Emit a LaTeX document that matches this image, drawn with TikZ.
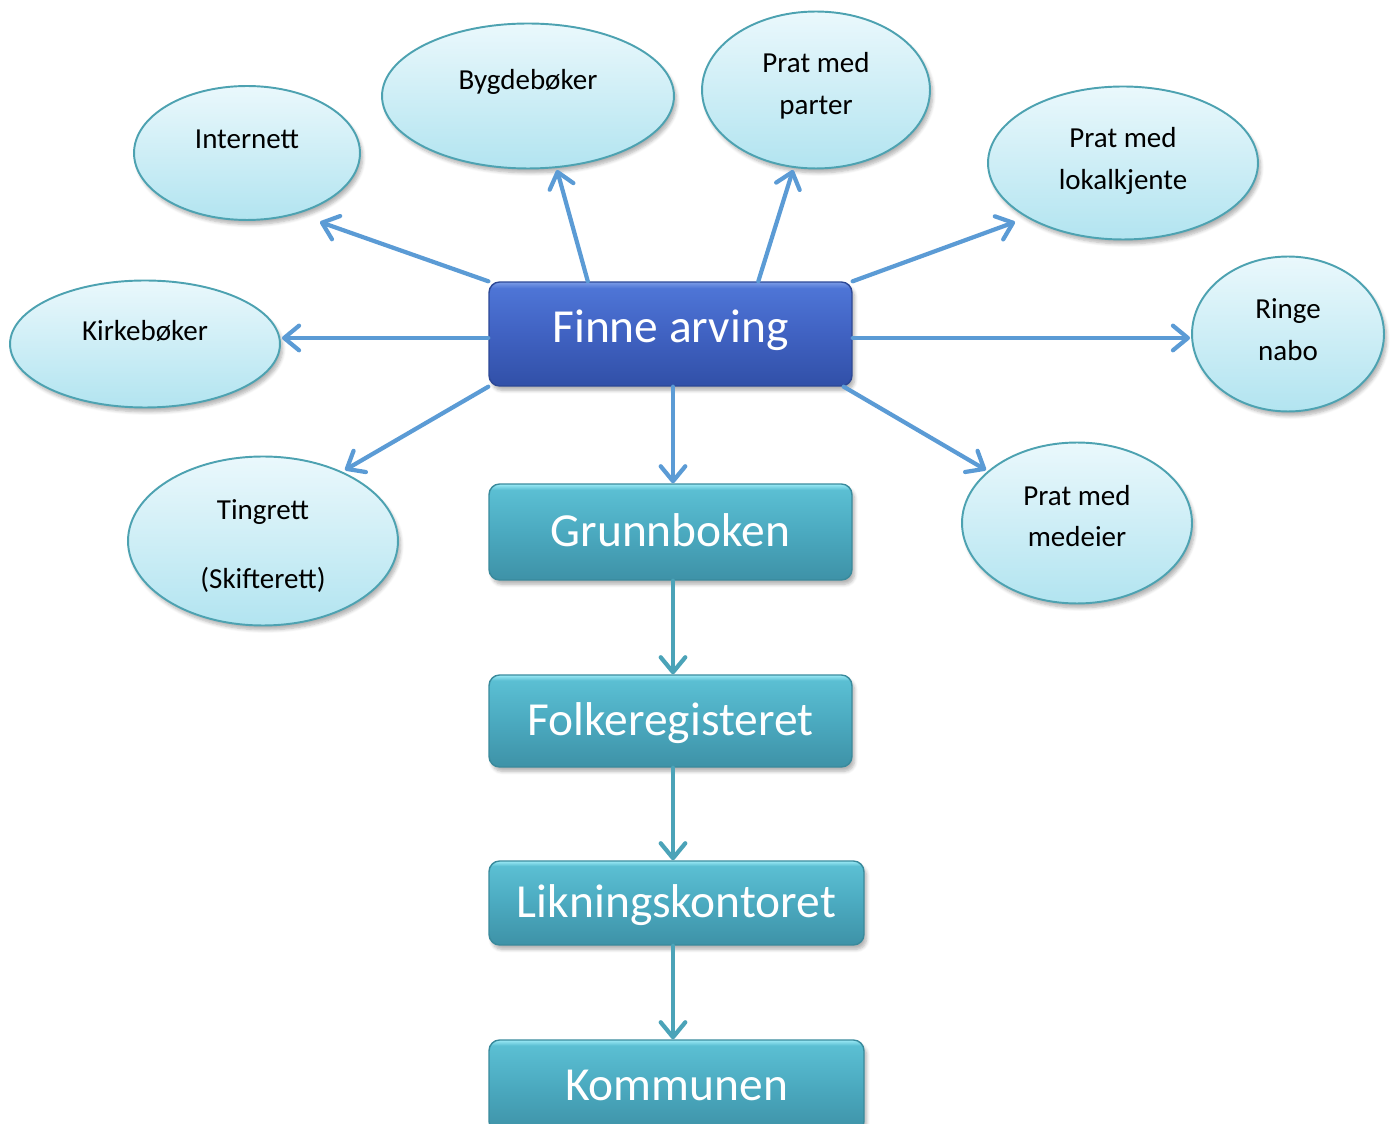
\documentclass[tikz,border=0pt]{standalone}
\usepackage{fontspec}
\setmainfont{Carlito}
\usetikzlibrary{arrows.meta,calc,shapes.geometric,shadows,shadows.blur}

\definecolor{bubtop}{HTML}{EAF8FC}
\definecolor{bubbot}{HTML}{B2E4F0}
\definecolor{bubedge}{HTML}{4DA2B1}
\definecolor{arrblue}{HTML}{5B9BD5}
\definecolor{arrteal}{HTML}{4BA3B8}
\definecolor{bluehi}{HTML}{7B9BE6}
\definecolor{bluetop}{HTML}{4E75D6}
\definecolor{bluemid}{HTML}{4062C2}
\definecolor{bluebot}{HTML}{3150A8}
\definecolor{blueedge}{HTML}{2C4896}
\definecolor{tealhi}{HTML}{9CEAF6}
\definecolor{tealtop}{HTML}{5BBFD3}
\definecolor{tealmid}{HTML}{4BAAC0}
\definecolor{tealbot}{HTML}{3E92A7}
\definecolor{tealedge}{HTML}{398A9C}

% glossy vertical fills for the boxes (25bp = bottom edge, 75bp = top edge)
\pgfdeclareverticalshading{bluegloss}{100bp}{color(0bp)=(bluebot); color(25bp)=(bluebot); color(50bp)=(bluemid); color(72bp)=(bluetop); color(75bp)=(bluehi); color(100bp)=(bluehi)}
\pgfdeclareverticalshading{tealgloss}{100bp}{color(0bp)=(tealbot); color(25bp)=(tealbot); color(50bp)=(tealmid); color(72bp)=(tealtop); color(75bp)=(tealhi); color(100bp)=(tealhi)}

\begin{document}
\begin{tikzpicture}[x=0.02cm, y=-0.02cm,
  softshadow/.style={blur shadow={shadow xshift=1.5pt, shadow yshift=-2.5pt, shadow blur steps=6, shadow opacity=30}},
  bubble/.style={ellipse, draw=bubedge, line width=1.1pt, top color=bubtop, bottom color=bubbot, inner sep=0pt, softshadow},
  btext/.style={font=\fontsize{16.5}{23.8}\selectfont, align=center, text=black, inner sep=0pt},
  box/.style={rounded corners=6pt, line width=0.8pt, text=white, inner sep=0pt,
    font=\fontsize{27}{30}\selectfont, text height=21pt, text depth=4.4pt, softshadow},
  bluebox/.style={box, draw=blueedge, shading=bluegloss, text height=16pt, text depth=6pt},
  tealbox/.style={box, draw=tealedge, shading=tealgloss},
  arr/.style={line width=2.4pt, draw=arrblue, line cap=round,
    -{Straight Barb[length=8.5pt, width=14pt, round]}},
  chain/.style={arr, draw=arrteal}]
\useasboundingbox (0,0) rectangle (1390,1124);

% ellipses around the central task
\node[bubble, minimum width=4.52cm, minimum height=2.68cm] (inet)   at (247,153) {};
\node[bubble, minimum width=5.84cm, minimum height=2.90cm] (bygd)   at (528,96)  {};
\node[bubble, minimum width=4.56cm, minimum height=3.14cm] (parter) at (816,90)  {};
\node[bubble, minimum width=5.40cm, minimum height=3.06cm] (lokal)  at (1123,163) {};
\node[bubble, minimum width=3.84cm, minimum height=3.10cm] (ringe)  at (1288,334) {};
\node[bubble, minimum width=4.60cm, minimum height=3.22cm] (medeier) at (1077,523) {};
\node[bubble, minimum width=5.40cm, minimum height=3.38cm] (ting)   at (263,541) {};
\node[bubble, minimum width=5.40cm, minimum height=2.54cm] (kirke)  at (145,344) {};

\node[btext] (inet-t)    at (247,139)   {Internett};
\node[btext] (bygd-t)    at (528,82)    {Bygdebøker};
\node[btext] (parter-t)  at (816,86)    {Prat med\\parter};
\node[btext] (lokal-t)   at (1123,161)  {Prat med\\lokalkjente};
\node[btext] (ringe-t)   at (1288,330)  {Ringe\\nabo};
\node[btext] (medeier-t) at (1077,516)  {Prat med\\medeier};
\node[btext] (ting-t)    at (263,546)   {Tingrett\\[0.55cm](Skifterett)};
\node[btext] (kirke-t)   at (145,331)   {Kirkebøker};

% main boxes
\node[bluebox, minimum width=7.26cm, minimum height=2.08cm] (fa)    at (670.5,334) {Finne arving};
\node[tealbox, minimum width=7.26cm, minimum height=1.92cm] (grunn) at (670.5,532) {Grunnboken};
\node[tealbox, minimum width=7.26cm, minimum height=1.84cm] (folke) at (670.5,721) {Folkeregisteret};
\node[tealbox, minimum width=7.50cm, minimum height=1.68cm] (likn)  at (676.5,903) {Likningskontoret};
\node[tealbox, minimum width=7.50cm, minimum height=1.84cm] (komm)  at (676.5,1086) {Kommunen};

% arrow tips near the ellipses
\coordinate (t-inet)    at (320,222);
\coordinate (t-bygd)    at (557,170);
\coordinate (t-parter)  at (793,170);
\coordinate (t-lokal)   at (1015,222);
\coordinate (t-ringe)   at (1190,338);
\coordinate (t-medeier) at (986,470);
\coordinate (t-ting)    at (345,470);
\coordinate (t-kirke)   at (282,338);

\draw[arr] (fa.north west) -- (t-inet);
\draw[arr] ($(fa.north west)!0.273!(fa.north east)$) -- (t-bygd);
\draw[arr] ($(fa.north west)!0.741!(fa.north east)$) -- (t-parter);
\draw[arr] (fa.north east) -- (t-lokal);
\draw[arr] (fa.east |- t-ringe) -- (t-ringe);
\draw[arr] ($(fa.south east)+(-9,0)$) -- (t-medeier);
\draw[arr] (fa.south west) -- (t-ting);
\draw[arr] (fa.west |- t-kirke) -- (t-kirke);

% the vertical line of the chain
\coordinate (axis) at (673,0);
\draw[arr]   (axis |- fa.south)    -- (axis |- grunn.north);
\draw[chain] (axis |- grunn.south) -- (axis |- folke.north);
\draw[chain] (axis |- folke.south) -- (axis |- likn.north);
\draw[chain] (axis |- likn.south)  -- (axis |- komm.north);
\end{tikzpicture}
\end{document}
